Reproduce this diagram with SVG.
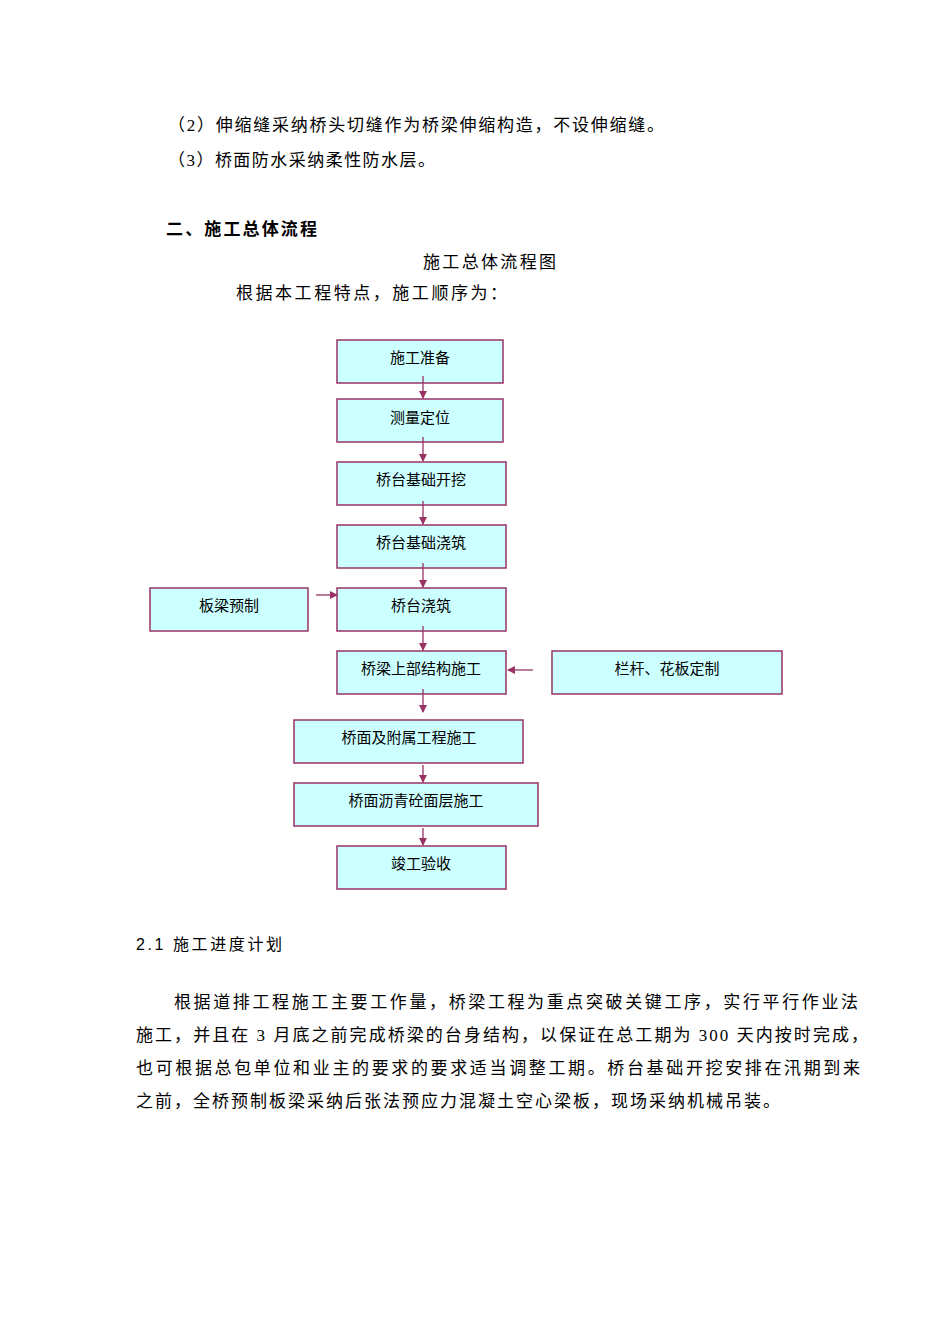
<svg xmlns="http://www.w3.org/2000/svg" width="950" height="1344" viewBox="0 0 950 1344">
<style>
.t{font-family:"Liberation Serif","Noto Sans CJK SC",serif;font-size:17px;fill:#000}
.b{font-family:"Noto Sans CJK SC",sans-serif;font-size:17px;font-weight:bold;fill:#000}
.s{font-family:"Liberation Sans","Noto Sans CJK SC",sans-serif;font-size:16px;fill:#000}
.n rect{fill:#ccffff;stroke:#993366;stroke-width:1.5}
.n text{font-family:"Liberation Serif","Noto Sans CJK SC",serif;font-size:15px;text-anchor:middle;fill:#000}
.c line{stroke:#993366;stroke-width:1.3;marker-end:url(#a)}
</style>
<defs><marker id="a" markerWidth="8" markerHeight="8" refX="7" refY="4" orient="auto" markerUnits="userSpaceOnUse"><path d="M0,0L8,4L0,8z" fill="#993366"/></marker></defs>
<rect width="950" height="1344" fill="#fff"/>
<text class="t" x="168" y="131" textLength="496" lengthAdjust="spacing">（2）伸缩缝采纳桥头切缝作为桥梁伸缩构造，不设伸缩缝。</text>
<text class="t" x="168" y="166" textLength="267" lengthAdjust="spacing">（3）桥面防水采纳柔性防水层。</text>
<text class="b" x="166" y="235" textLength="151" lengthAdjust="spacing">二、施工总体流程</text>
<text class="t" x="423" y="268" textLength="133" lengthAdjust="spacing">施工总体流程图</text>
<text class="t" x="236" y="299" textLength="271" lengthAdjust="spacing">根据本工程特点，施工顺序为：</text>
<g id="n1" class="n"><rect x="337" y="340" width="166" height="43"/><text x="420" y="363">施工准备</text></g>
<g id="n2" class="n"><rect x="337" y="399" width="166" height="43"/><text x="420" y="423">测量定位</text></g>
<g id="n3" class="n"><rect x="337" y="462" width="169" height="43"/><text x="421" y="485">桥台基础开挖</text></g>
<g id="n4" class="n"><rect x="337" y="525" width="169" height="43"/><text x="421" y="548">桥台基础浇筑</text></g>
<g id="n5" class="n"><rect x="337" y="588" width="169" height="43"/><text x="421" y="611">桥台浇筑</text></g>
<g id="n5b" class="n"><rect x="150" y="588" width="158" height="43"/><text x="229" y="611">板梁预制</text></g>
<g id="n6" class="n"><rect x="337" y="651" width="169" height="43"/><text x="421" y="674">桥梁上部结构施工</text></g>
<g id="n6b" class="n"><rect x="552" y="651" width="230" height="43"/><text x="667" y="674">栏杆、花板定制</text></g>
<g id="n7" class="n"><rect x="294" y="720" width="229" height="43"/><text x="409" y="743">桥面及附属工程施工</text></g>
<g id="n8" class="n"><rect x="294" y="783" width="244" height="43"/><text x="416" y="806">桥面沥青砼面层施工</text></g>
<g id="n9" class="n"><rect x="337" y="846" width="169" height="43"/><text x="421" y="869">竣工验收</text></g>
<g id="connectors" class="c">
<line x1="423" y1="376" x2="423" y2="398"/>
<line x1="423" y1="437" x2="423" y2="461"/>
<line x1="423" y1="501" x2="423" y2="524"/>
<line x1="423" y1="563" x2="423" y2="587"/>
<line x1="423" y1="626" x2="423" y2="650"/>
<line x1="316" y1="595" x2="337" y2="595"/>
<line x1="533" y1="670" x2="508" y2="670"/>
<line x1="423" y1="689" x2="423" y2="712"/>
<line x1="423" y1="765" x2="423" y2="782"/>
<line x1="423" y1="828" x2="423" y2="845"/>
</g>
<text class="s" x="136" y="950" textLength="146" lengthAdjust="spacing">2.1 施工进度计划</text>
<text class="t" x="174" y="1008" textLength="684" lengthAdjust="spacing">根据道排工程施工主要工作量，桥梁工程为重点突破关键工序，实行平行作业法</text>
<text class="t" x="136" y="1041" textLength="732" lengthAdjust="spacing">施工，并且在 3 月底之前完成桥梁的台身结构，以保证在总工期为 300 天内按时完成，</text>
<text class="t" x="136" y="1074" textLength="724" lengthAdjust="spacing">也可根据总包单位和业主的要求的要求适当调整工期。桥台基础开挖安排在汛期到来</text>
<text class="t" x="136" y="1107" textLength="644" lengthAdjust="spacing">之前，全桥预制板梁采纳后张法预应力混凝土空心梁板，现场采纳机械吊装。</text>
</svg>
